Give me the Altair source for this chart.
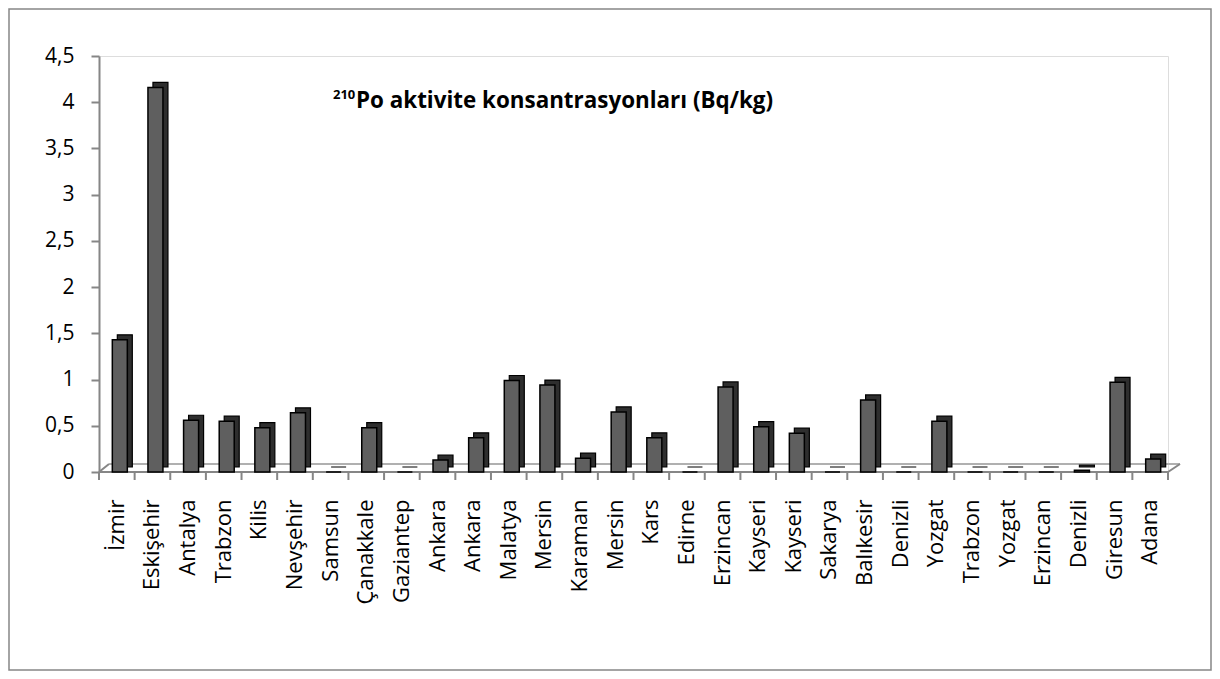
import json
import altair as alt
import pandas as pd

names = ["İzmir", "Eskişehir", "Antalya", "Trabzon", "Kilis", "Nevşehir", "Samsun",
         "Çanakkale", "Gaziantep", "Ankara", "Ankara", "Malatya", "Mersin", "Karaman",
         "Mersin", "Kars", "Edirne", "Erzincan", "Kayseri", "Kayseri", "Sakarya",
         "Balıkesir", "Denizli", "Yozgat", "Trabzon", "Yozgat", "Erzincan", "Denizli",
         "Giresun", "Adana"]
values = [1.43, 4.16, 0.56, 0.55, 0.48, 0.64, 0.0, 0.48, 0.0, 0.13, 0.37, 0.99, 0.94,
          0.15, 0.65, 0.37, 0.0, 0.92, 0.49, 0.42, 0.0, 0.78, 0.0, 0.55, 0.0, 0.0,
          0.0, 0.02, 0.97, 0.14]
y_ticks = [0, 0.5, 1, 1.5, 2, 2.5, 3, 3.5, 4, 4.5]

df = pd.DataFrame({"idx": list(range(len(names))), "name": names, "value": values})
one = pd.DataFrame({"a": [0]})

W, H = 1069, 416
FONT = "Open Sans"
GRAY = "#868686"

label_expr = "%s[datum.value]" % json.dumps(names, ensure_ascii=False)

xscale = alt.Scale(paddingInner=0, paddingOuter=0)
yscale = alt.Scale(domain=[0, 4.5], nice=False)

x_axis = alt.Axis(labelExpr=label_expr, labelAngle=-90, labelFont=FONT,
                  labelFontSize=22, labelColor="black", ticks=False,
                  domain=False, labelPadding=27, title=None,
                  labelBaseline="middle", labelAlign="right")
y_axis = alt.Axis(values=y_ticks, grid=False, title=None,
                  labelExpr="replace(format(datum.value, ''), '.', ',')",
                  labelFont=FONT, labelFontSize=21, labelColor="black",
                  labelPadding=17, tickSize=8, tickColor=GRAY,
                  domainColor=GRAY, domainWidth=2, tickWidth=2)

border = alt.Chart(one).mark_rect(fill=None, stroke=GRAY, strokeWidth=1.5).encode(
    x=alt.value(-90), x2=alt.value(W + 43), y=alt.value(-47), y2=alt.value(H + 198))

floor_front = alt.Chart(one).mark_rule(color=GRAY, strokeWidth=2).encode(
    x=alt.value(0), x2=alt.value(W), y=alt.value(H), y2=alt.value(H))
floor_back = alt.Chart(one).mark_rule(color="#b0b0b0", strokeWidth=2).encode(
    x=alt.value(10), x2=alt.value(W + 12), y=alt.value(H - 8), y2=alt.value(H - 8))
floor_left = alt.Chart(one).mark_rule(color=GRAY, strokeWidth=2).encode(
    x=alt.value(0), x2=alt.value(10), y=alt.value(H), y2=alt.value(H - 8))
floor_right = alt.Chart(one).mark_rule(color=GRAY, strokeWidth=2).encode(
    x=alt.value(W), x2=alt.value(W + 12), y=alt.value(H), y2=alt.value(H - 8))

back = alt.Chart(df).mark_bar(size=15, xOffset=8, yOffset=-5, fill="#2e2e2e",
                              stroke="black", strokeWidth=1.2).encode(
    x=alt.X("idx:O", scale=xscale, axis=x_axis),
    y=alt.Y("value:Q", scale=yscale, axis=y_axis))

front = alt.Chart(df).mark_bar(size=15, xOffset=3, fill="#5f5f5f",
                               stroke="black", strokeWidth=1.5).encode(
    x=alt.X("idx:O", scale=xscale, axis=x_axis),
    y=alt.Y("value:Q", scale=yscale, axis=y_axis))

xticks = alt.Chart(df).mark_rule(color=GRAY, strokeWidth=2).encode(
    x=alt.X("idx:O", scale=xscale, axis=x_axis, bandPosition=0),
    y=alt.value(H), y2=alt.value(H + 8))
xtick_end = alt.Chart(one).mark_rule(color=GRAY, strokeWidth=2).encode(
    x=alt.value(W), y=alt.value(H), y2=alt.value(H + 8))

sup = alt.Chart(one).mark_text(text="210", font=FONT, fontSize=13, fontWeight="bold",
                               align="left", baseline="alphabetic", color="black").encode(
    x=alt.value(234), y=alt.value(43))
title = alt.Chart(one).mark_text(text="Po aktivite konsantrasyonları (Bq/kg)", font=FONT,
                                 fontSize=22.4, fontWeight="bold", align="left",
                                 baseline="alphabetic", color="black").encode(
    x=alt.value(257), y=alt.value(52))

chart = alt.layer(border, floor_back, floor_left, floor_right, floor_front, back, front,
                  xticks, xtick_end, sup, title).properties(
    width=W, height=H,
    autosize=alt.AutoSizeParams(type="none"),
    padding={"left": 91, "top": 48, "right": 44, "bottom": 199},
).configure_view(strokeWidth=0).configure(background="white")

chart.save("out.html", embed_options={"renderer": "svg", "actions": False})
